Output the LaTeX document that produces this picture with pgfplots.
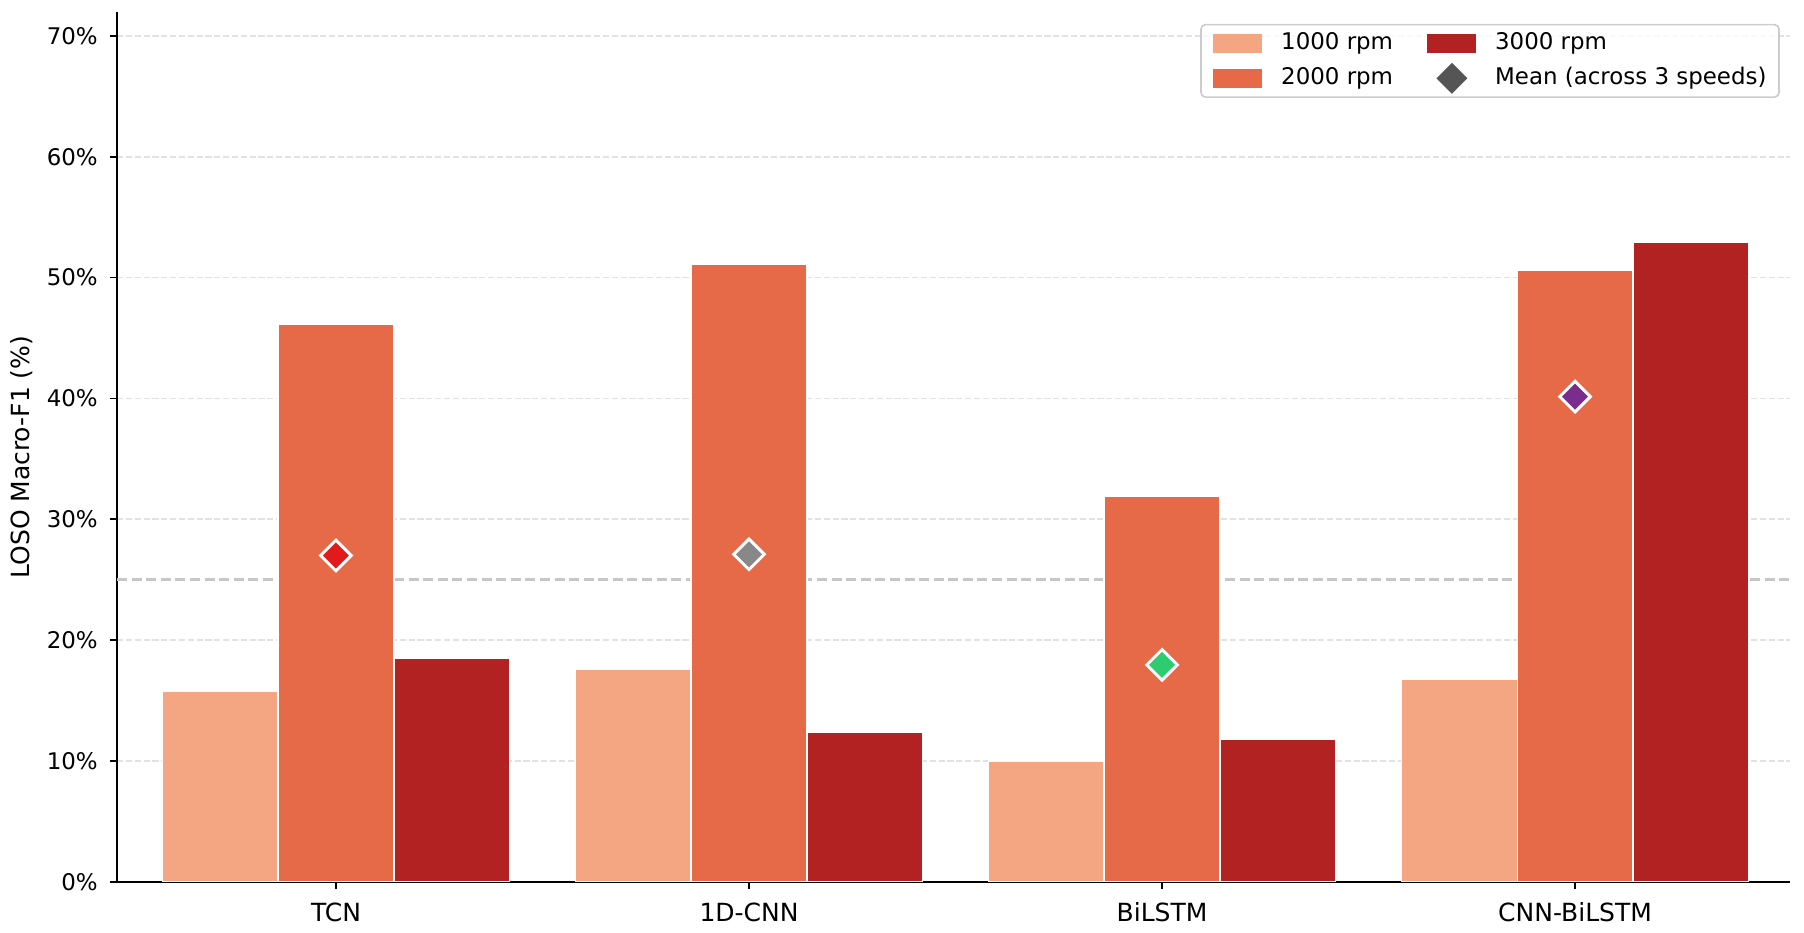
\documentclass[border=0pt]{standalone}
\usepackage{fontspec}
\setmainfont{DejaVu Sans}
\usepackage{pgfplots}
\pgfplotsset{compat=1.18}
\definecolor{rpmA}{HTML}{F4A582}
\definecolor{rpmB}{HTML}{E66A48}
\definecolor{rpmC}{HTML}{B22222}
\definecolor{mTCN}{HTML}{E31A1C}
\definecolor{mCNN}{HTML}{888888}
\definecolor{mBi}{HTML}{2ECC71}
\definecolor{mCB}{HTML}{7B2D8E}
\definecolor{mGray}{HTML}{555555}
\definecolor{gridc}{HTML}{E2E2E2}
\definecolor{refc}{HTML}{C6C6C6}
\definecolor{legc}{HTML}{CCCCCC}
\pgfplotsset{
  barleg/.style={legend image code/.code={\fill[##1, draw=none, fill opacity=1, sharp corners] (0pt,-4.5pt) rectangle (23.5pt,4.5pt);}},
  meanleg/.style={legend image code/.code={\path[draw=none, fill=none] (0pt,-4.5pt) rectangle (23.5pt,4.5pt); \draw[##1, overlay, fill opacity=1, sharp corners] plot coordinates {(11.75pt,0pt)};}},
}
\begin{document}
\begin{tikzpicture}
\useasboundingbox (-56.2pt,-24.5pt) rectangle (809.8pt,423.3pt);
\begin{axis}[
  at={(0,0)}, anchor=south west,
  scale only axis, width=803pt, height=417.7pt,
  xmin=-0.53, xmax=3.52, ymin=0, ymax=72,
  axis x line*=bottom, axis y line*=left,
  axis line style={-, line width=0.8pt, black},
  xtick={0,1,2,3}, xticklabels={TCN,1D-CNN,BiLSTM,CNN-BiLSTM},
  ytick={0,10,20,30,40,50,60,70},
  yticklabels={0\%,10\%,20\%,30\%,40\%,50\%,60\%,70\%},
  /pgf/number format/assume math mode=true,
  tick align=outside, major tick length=3.5pt,
  tick style={line width=0.8pt, black},
  tick pos=left,
  ymajorgrids,
  grid style={gridc, line width=0.8pt, dash pattern=on 2.96pt off 1.28pt},
  xticklabel style={font=\fontsize{12}{14}\selectfont, inner sep=0pt, anchor=north, text height=8.75pt, text depth=0pt, yshift=-6.5pt, text=black},
  yticklabel style={font=\fontsize{11}{13}\selectfont, inner sep=0pt, anchor=east, text height=8pt, text depth=0pt, xshift=-5.6pt, text=black},
  ylabel={LOSO Macro-F1 (\%)},
  every axis y label/.style={at={(axis description cs:-0.0568,0.488)}, rotate=90, anchor=center, font=\fontsize{12}{14}\selectfont},
  legend columns=2,
  legend cell align=left,
  legend style={at={(1,1)}, anchor=north east, xshift=-4.8pt, yshift=-5.8pt,
    draw=legc, line width=0.8pt, rounded corners=2.2pt,
    fill=white, fill opacity=0.8, draw opacity=1, text opacity=1,
    font=\fontsize{11}{13}\selectfont,
    inner xsep=6pt, inner ysep=3.75pt, row sep=6.3pt,
    nodes={inner sep=0pt, text height=8pt, text depth=2.5pt},
    /tikz/every odd column/.append style={column sep=9pt},
    /tikz/every even column/.append style={column sep=16.5pt}},
]
\addplot[forget plot, refc, line width=1.4pt, dash pattern=on 4.8pt off 2.2pt] coordinates {(-0.53,25) (3.52,25)};
\addplot[ybar, bar width=0.28, bar shift=0pt, fill=rpmA, draw=white, line width=0.7pt, barleg]
  coordinates {(-0.28,15.8) (0.72,17.6) (1.72,10.0) (2.72,16.8)};
\addlegendentry{1000 rpm}
\addplot[ybar, bar width=0.28, bar shift=0pt, fill=rpmC, draw=white, line width=0.7pt, barleg]
  coordinates {(0.28,18.5) (1.28,12.4) (2.28,11.8) (3.28,52.9)};
\addlegendentry{3000 rpm}
\addplot[ybar, bar width=0.28, bar shift=0pt, fill=rpmB, draw=white, line width=0.7pt, barleg]
  coordinates {(0,46.1) (1,51.1) (2,31.9) (3,50.6)};
\addlegendentry{2000 rpm}
\addplot[forget plot, only marks, mark=square*, mark size=5.2pt, mark options={rotate=45, fill=mTCN, draw=white, line width=1.4pt}] coordinates {(0,27.0)};
\addplot[forget plot, only marks, mark=square*, mark size=5.2pt, mark options={rotate=45, fill=mCNN, draw=white, line width=1.4pt}] coordinates {(1,27.1)};
\addplot[forget plot, only marks, mark=square*, mark size=5.2pt, mark options={rotate=45, fill=mBi, draw=white, line width=1.4pt}] coordinates {(2,17.95)};
\addplot[forget plot, only marks, mark=square*, mark size=5.2pt, mark options={rotate=45, fill=mCB, draw=white, line width=1.4pt}] coordinates {(3,40.15)};
\addlegendimage{only marks, mark=square*, mark size=5pt, mark options={rotate=45, fill=mGray, draw=mGray, line width=0.5pt, fill opacity=1}, meanleg}
\addlegendentry{Mean (across 3 speeds)}
\end{axis}
\end{tikzpicture}
\end{document}
